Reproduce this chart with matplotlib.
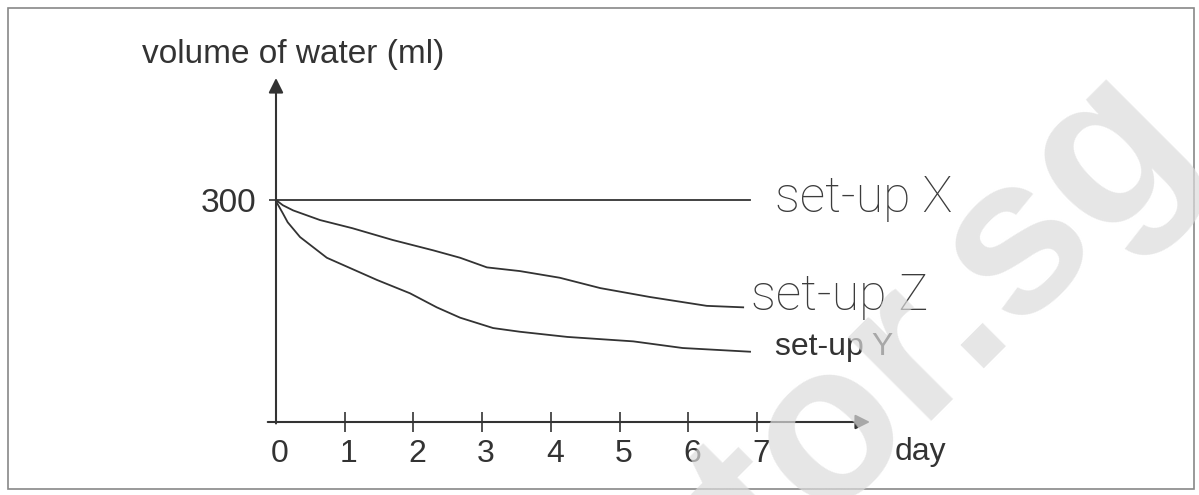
import matplotlib
matplotlib.use("Agg")
import matplotlib.pyplot as plt
from matplotlib.patches import Rectangle
from matplotlib.transforms import ScaledTranslation

plt.rcParams["font.family"] = ["Liberation Sans", "DejaVu Sans"]

# values
days_x = [0, 6.9]
vol_x = [300, 300]

days_z = [0, 0.10, 0.25, 0.64, 1.11, 1.70, 2.29, 2.68, 3.07, 3.55, 4.13, 4.72, 5.44, 6.27, 6.80]
vol_z = [300, 293, 286, 273, 262, 246, 232, 222, 209, 204, 195, 181, 169, 157, 155]

days_y = [0, 0.015, 0.10, 0.17, 0.35, 0.74, 1.47, 1.95, 2.34, 2.68, 3.16, 3.55, 4.24, 5.20, 5.92, 6.90]
vol_y = [300, 296, 282, 270, 250, 222, 192, 174, 155, 141, 127, 122, 115, 109, 100, 95]

day_ticks = [0, 1, 2, 3, 4, 5, 6, 7]
vol_ticks = [300]

ink = "#333333"
W, H = 1199, 495

fig = plt.figure(figsize=(W / 100, H / 100), dpi=100)
fig.patch.set_facecolor("white")

# scan border
fig.patches.append(Rectangle((8 / W, 1 - 489 / H), (1194 - 8) / W, (489 - 8) / H,
                             transform=fig.transFigure, fill=False,
                             edgecolor="#888888", lw=1.2))

ax = fig.add_axes([276 / W, (H - 422) / H, (870 - 276) / W, (422 - 78) / H])
ax.set_xlim(0, 8.646)
ax.set_ylim(0, 465)
for s in ax.spines.values():
    s.set_visible(False)
ax.patch.set_alpha(0)

# axes with arrow heads
ax.annotate("", xy=(8.646, 0), xytext=(-0.12, 0), annotation_clip=False,
            arrowprops=dict(arrowstyle="-|>", color=ink, lw=1.5, mutation_scale=22,
                            shrinkA=0, shrinkB=0))
ax.annotate("", xy=(0, 465), xytext=(0, -2), annotation_clip=False,
            arrowprops=dict(arrowstyle="-|>", color=ink, lw=1.5, mutation_scale=22,
                            shrinkA=0, shrinkB=0))

ax.plot(days_x, vol_x, color=ink, lw=1.3, clip_on=False)
ax.plot(days_z, vol_z, color=ink, lw=1.3, clip_on=False)
ax.plot(days_y, vol_y, color=ink, lw=1.3, clip_on=False)

ax.set_xticks(day_ticks)
ax.set_xticklabels([str(d) for d in day_ticks])
ax.tick_params(axis="x", direction="inout", length=15, width=1.2, color=ink,
               labelsize=23, labelcolor=ink, pad=5)
ax.xaxis.get_major_ticks()[0].tick1line.set_visible(False)
for lbl in ax.get_xticklabels():
    lbl.set_transform(lbl.get_transform() + ScaledTranslation(0.04, 0, fig.dpi_scale_trans))

ax.set_yticks(vol_ticks)
ax.set_yticklabels(["300"])
ax.tick_params(axis="y", direction="out", length=5, width=1.2, color=ink,
               labelsize=24, labelcolor=ink, pad=9)

fig.text(293 / W, 1 - 63 / H, "volume of water (ml)", fontsize=24, color=ink,
         ha="center", va="baseline")
fig.text(895 / W, 1 - 460 / H, "day", fontsize=23, color=ink, ha="left", va="baseline")

# curve labels (handwritten ones in a light face)
hand = dict(family=["Roboto", "DejaVu Sans"], fontweight="light", color="#3c3c3c", fontsize=36)
ax.text(7.26, 284, "set-up X", ha="left", va="baseline", **hand)
ax.text(6.92, 151, "set-up Z", ha="left", va="baseline", **hand)
ax.text(7.26, 90, "set-up Y", fontsize=23, color=ink, ha="left", va="baseline")

# site watermark
fig.text(912 / W, 1 - 438 / H, "tutor.sg", fontsize=160, fontweight="bold",
         color="#dcdcdc", alpha=0.7, rotation=45, rotation_mode="anchor",
         ha="center", va="baseline", zorder=10)

fig.savefig("out.png", dpi=100)
